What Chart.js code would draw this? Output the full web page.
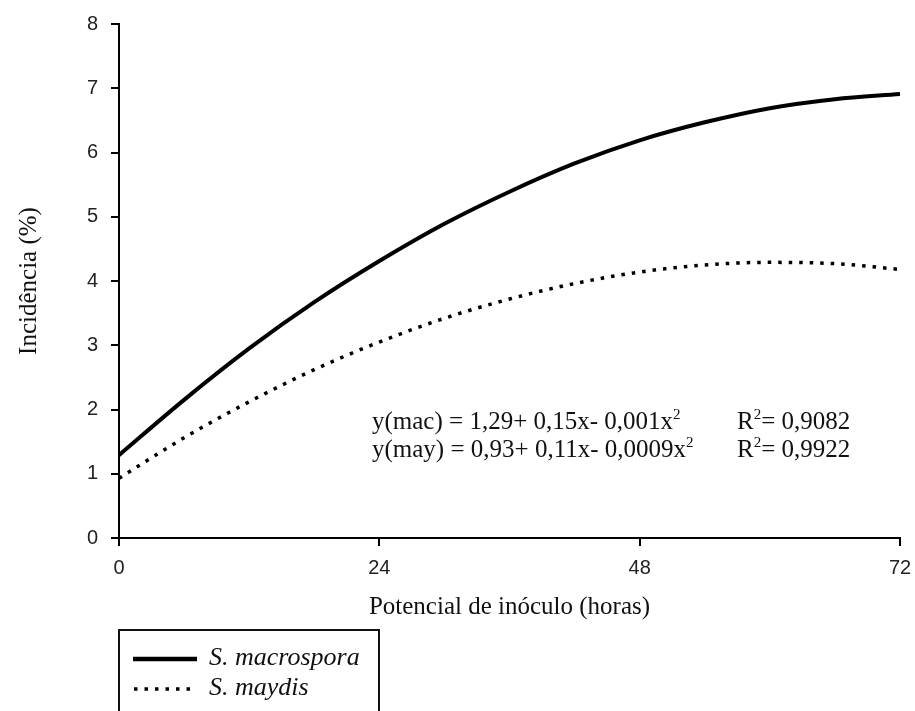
<!DOCTYPE html>
<html>
<head>
<meta charset="utf-8">
<script src="https://cdn.jsdelivr.net/npm/chart.js@4.4.1/dist/chart.umd.min.js"></script>
<style>
    html, body { margin: 0; padding: 0; background: #fff; }
    #wrap { position: relative; width: 915px; height: 711px; overflow: hidden; }
    #chart { position: absolute; left: 0; top: 0; }
    .eq {
        position: absolute;
        font-family: "Liberation Serif", "Times New Roman", serif;
        font-size: 25px;
        color: #111;
        white-space: nowrap;
        line-height: 1;
    }
    .eq sup { font-size: 15px; vertical-align: 10px; line-height: 0; }
    #legend {
        position: absolute;
        left: 118px; top: 629px;
        width: 262px; height: 120px;
        border: 2px solid #111;
        box-sizing: border-box;
    }
    .lg-row {
        position: absolute; left: 13px;
        height: 30px; line-height: 30px;
        font-family: "Liberation Serif", "Times New Roman", serif;
        font-style: italic;
        font-size: 26px;
        color: #111;
        white-space: nowrap;
    }
    .lg-row canvas { vertical-align: middle; margin-right: 10px; }
</style>
</head>
<body>
<div id="wrap">
    <canvas id="chart" width="915" height="711"></canvas>
    <div class="eq" id="eq1" style="left:372px; top:408px;"></div>
    <div class="eq" id="eq2" style="left:372px; top:436px;"></div>
    <div class="eq" id="r1" style="left:737px; top:408px;"></div>
    <div class="eq" id="r2" style="left:737px; top:436px;"></div>
    <div id="legend">
        <div class="lg-row" style="top:11px;"><canvas id="lg1" width="66" height="8"></canvas><span id="lgt1"></span></div>
        <div class="lg-row" style="top:41px;"><canvas id="lg2" width="66" height="8"></canvas><span id="lgt2"></span></div>
    </div>
</div>
<script>
// hours of inoculum potential
var HOURS = [0, 6, 12, 18, 24, 30, 36, 42, 48, 54, 60, 66, 72];
// incidence (%)
var MACROSPORA = [1.29, 2.15, 2.95, 3.67, 4.31, 4.89, 5.39, 5.83, 6.19, 6.47, 6.69, 6.83, 6.91];
var MAYDIS     = [0.93, 1.56, 2.12, 2.62, 3.05, 3.42, 3.72, 3.96, 4.14, 4.25, 4.29, 4.27, 4.18];

var SERIES_NAMES = ['S. macrospora', 'S. maydis'];
var X_TICKS = [0, 24, 48, 72];
var Y_TICKS = [0, 1, 2, 3, 4, 5, 6, 7, 8];
var X_TITLE = 'Potencial de inóculo (horas)';
var Y_TITLE = 'Incidência (%)';
var EQUATIONS = ['y(mac) = 1,29+ 0,15x- 0,001x<sup>2</sup>', 'y(may) = 0,93+ 0,11x- 0,0009x<sup>2</sup>'];
var R2 = ['R<sup>2</sup>= 0,9082', 'R<sup>2</sup>= 0,9922'];

document.getElementById('eq1').innerHTML = EQUATIONS[0];
document.getElementById('eq2').innerHTML = EQUATIONS[1];
document.getElementById('r1').innerHTML = R2[0];
document.getElementById('r2').innerHTML = R2[1];
document.getElementById('lgt1').textContent = SERIES_NAMES[0];
document.getElementById('lgt2').textContent = SERIES_NAMES[1];

function pts(ys) {
    return HOURS.map(function(h, i) { return { x: h, y: ys[i] }; });
}

// legend samples
(function() {
    var c1 = document.getElementById('lg1').getContext('2d');
    c1.strokeStyle = '#000'; c1.lineWidth = 4.5;
    c1.beginPath(); c1.moveTo(0, 4); c1.lineTo(64, 4); c1.stroke();
    var c2 = document.getElementById('lg2').getContext('2d');
    c2.strokeStyle = '#000'; c2.lineWidth = 3.5; c2.setLineDash([3.5, 7]);
    c2.beginPath(); c2.moveTo(1, 4); c2.lineTo(60, 4); c2.stroke();
})();

var tickFont = { family: '"Liberation Sans", Arial, sans-serif', size: 20 };
var titleFont = { family: '"Liberation Serif", "Times New Roman", serif', size: 25 };

new Chart(document.getElementById('chart'), {
    type: 'line',
    data: {
        datasets: [
            {
                label: SERIES_NAMES[0],
                data: pts(MACROSPORA),
                borderColor: '#000',
                borderWidth: 4,
                pointRadius: 0,
                cubicInterpolationMode: 'monotone',
                fill: false
            },
            {
                label: SERIES_NAMES[1],
                data: pts(MAYDIS),
                borderColor: '#000',
                borderWidth: 3.5,
                borderDash: [3.5, 7],
                pointRadius: 0,
                cubicInterpolationMode: 'monotone',
                fill: false
            }
        ]
    },
    options: {
        responsive: false,
        animation: false,
        layout: { padding: { left: 0, top: 24, right: 15, bottom: 80 } },
        plugins: { legend: { display: false }, tooltip: { enabled: false } },
        scales: {
            x: {
                type: 'linear',
                min: 0,
                max: 72,
                afterFit: function(s) { s.height = 93; s.paddingLeft = 0; s.paddingRight = 0; },
                afterBuildTicks: function(s) { s.ticks = X_TICKS.map(function(v) { return { value: v }; }); },
                border: { display: true, color: '#000', width: 2 },
                grid: { drawOnChartArea: false, drawTicks: true, tickLength: 8, color: '#000', lineWidth: 2 },
                ticks: { color: '#222', font: tickFont, padding: 10, maxRotation: 0 },
                title: { display: true, text: X_TITLE, color: '#111', font: titleFont, padding: { top: 0, bottom: 9 } }
            },
            y: {
                min: 0,
                max: 8,
                afterFit: function(s) { s.width = 119; s.paddingTop = 0; s.paddingBottom = 0; },
                afterBuildTicks: function(s) { s.ticks = Y_TICKS.map(function(v) { return { value: v }; }); },
                border: { display: true, color: '#000', width: 2 },
                grid: { drawOnChartArea: false, drawTicks: true, tickLength: 8, color: '#000', lineWidth: 2 },
                ticks: { color: '#222', font: tickFont, padding: 13 },
                title: { display: true, text: Y_TITLE, color: '#111', font: titleFont, padding: { top: 14, bottom: 0 } }
            }
        }
    }
});
</script>
</body>
</html>
